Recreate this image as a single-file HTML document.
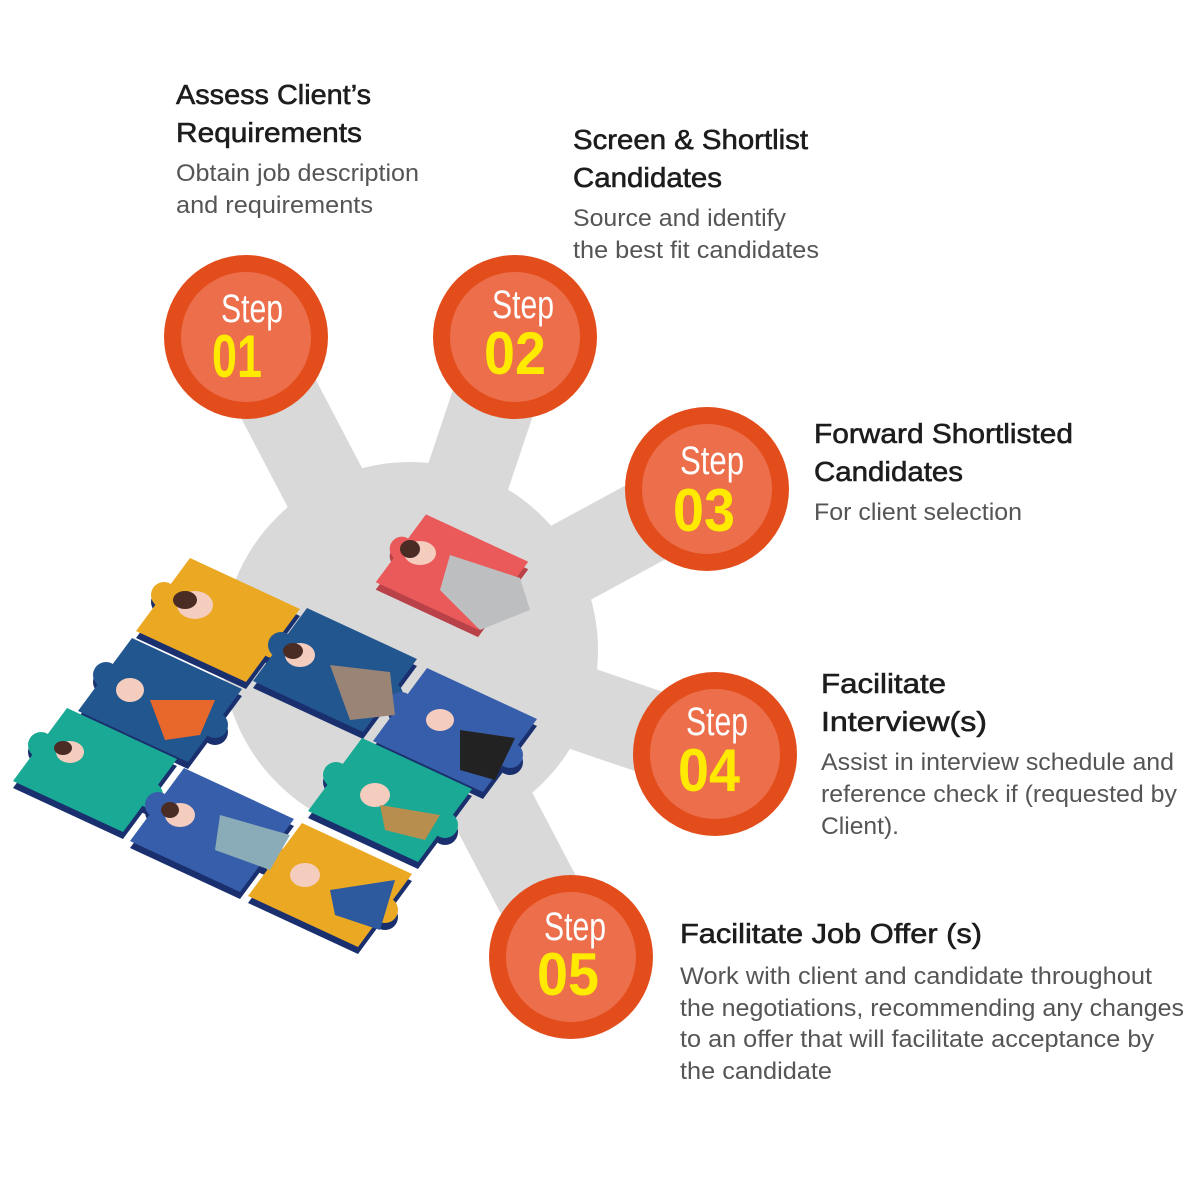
<!DOCTYPE html>
<html><head><meta charset="utf-8"><style>
html,body{margin:0;padding:0;background:#fff;}
svg{display:block;}
.h{font-family:"Liberation Sans",sans-serif;font-size:28px;fill:#1d1d1d;stroke:#1d1d1d;stroke-width:0.6px;}
.b{font-family:"Liberation Sans",sans-serif;font-size:24px;fill:#555;}
.st{font-family:"Liberation Sans Narrow","Liberation Sans",sans-serif;font-size:40px;fill:#fff;}
.nm{font-family:"Liberation Sans Narrow","Liberation Sans",sans-serif;font-size:60px;font-weight:bold;fill:#FFEA00;}
</style></head><body>
<svg width="1200" height="1200" viewBox="0 0 1200 1200" xmlns="http://www.w3.org/2000/svg">
<defs>
<g id="pc"><polygon points="-28,-62 82,-11 28,62 -82,11"/><circle cx="55" cy="25" r="13"/><circle cx="-54" cy="-25" r="13"/></g>
</defs>
<!-- gray hub -->
<g fill="#D9D9D9" stroke="#D9D9D9" stroke-linecap="round">
<circle cx="410" cy="650" r="188" stroke="none"/>
<line x1="410" y1="650" x2="246" y2="337" stroke-width="84"/>
<line x1="410" y1="650" x2="515" y2="337" stroke-width="84"/>
<line x1="410" y1="650" x2="707" y2="489" stroke-width="84"/>
<line x1="410" y1="650" x2="715" y2="754" stroke-width="84"/>
<line x1="410" y1="650" x2="571" y2="957" stroke-width="84"/>
</g>
<!-- puzzle pieces -->
<g>
<g fill="#1a2f6e">
<use href="#pc" transform="translate(218,627)"/>
<use href="#pc" transform="translate(160,707)"/>
<use href="#pc" transform="translate(95,777)"/>
<use href="#pc" transform="translate(212,837)"/>
<use href="#pc" transform="translate(330,892)"/>
<use href="#pc" transform="translate(390,807)"/>
<use href="#pc" transform="translate(455,737)"/>
<use href="#pc" transform="translate(335,677)"/>
</g>
<use href="#pc" transform="translate(218,620)" fill="#EAA823"/>
<use href="#pc" transform="translate(335,670)" fill="#22568F"/>
<use href="#pc" transform="translate(160,700)" fill="#22568F"/>
<use href="#pc" transform="translate(455,730)" fill="#375EAA"/>
<use href="#pc" transform="translate(95,770)" fill="#1AA994"/>
<use href="#pc" transform="translate(390,800)" fill="#1AA994"/>
<use href="#pc" transform="translate(212,830)" fill="#375EAA"/>
<use href="#pc" transform="translate(330,885)" fill="#EAA823"/>
<!-- red piece -->
<g transform="translate(452,572) scale(0.93)">
<use href="#pc" transform="translate(0,8)" fill="#b94148"/>
<use href="#pc" fill="#EA5A5B"/>
</g>
<!-- simple figures -->
<g fill="#F5CDBE">
<ellipse cx="195" cy="605" rx="18" ry="14"/><ellipse cx="130" cy="690" rx="14" ry="12"/>
<ellipse cx="70" cy="752" rx="14" ry="11"/><ellipse cx="180" cy="815" rx="15" ry="12"/>
<ellipse cx="305" cy="875" rx="15" ry="12"/><ellipse cx="375" cy="795" rx="15" ry="12"/>
<ellipse cx="440" cy="720" rx="14" ry="11"/><ellipse cx="300" cy="655" rx="15" ry="12"/>
<ellipse cx="420" cy="553" rx="16" ry="12"/>
</g>
<g fill="#4a2c25">
<ellipse cx="185" cy="600" rx="12" ry="9"/><ellipse cx="293" cy="651" rx="10" ry="8"/>
<ellipse cx="410" cy="549" rx="10" ry="9"/><ellipse cx="63" cy="748" rx="9" ry="7"/>
<ellipse cx="170" cy="810" rx="9" ry="8"/>
</g>
<polygon points="450,555 520,578 530,610 480,630 440,590" fill="#BDBEC0"/>
<polygon points="330,665 390,672 395,715 350,720" fill="#9A8476"/>
<polygon points="150,700 215,700 200,735 165,740" fill="#E8682B"/>
<polygon points="220,815 290,835 270,870 215,850" fill="#8AACB8"/>
<polygon points="460,730 515,738 495,780 460,770" fill="#222"/>
<polygon points="380,805 440,815 425,840 385,830" fill="#B88E4F"/>
<polygon points="330,890 395,880 380,930 335,915" fill="#2D5A9E"/>
</g>
<!-- step circles -->
<g>
<circle cx="246" cy="337" r="82" fill="#E34D1C"/><circle cx="246" cy="337" r="65" fill="#EC6E4B"/>
<circle cx="515" cy="337" r="82" fill="#E34D1C"/><circle cx="515" cy="337" r="65" fill="#EC6E4B"/>
<circle cx="707" cy="489" r="82" fill="#E34D1C"/><circle cx="707" cy="489" r="65" fill="#EC6E4B"/>
<circle cx="715" cy="754" r="82" fill="#E34D1C"/><circle cx="715" cy="754" r="65" fill="#EC6E4B"/>
<circle cx="571" cy="957" r="82" fill="#E34D1C"/><circle cx="571" cy="957" r="65" fill="#EC6E4B"/>
</g>
<g>
<text class="st" x="221" y="322" textLength="62" lengthAdjust="spacingAndGlyphs">Step</text>
<text class="nm" x="212" y="377" textLength="50" lengthAdjust="spacingAndGlyphs">01</text>
<text class="st" x="492" y="318" textLength="62" lengthAdjust="spacingAndGlyphs">Step</text>
<text class="nm" x="484" y="374" textLength="62" lengthAdjust="spacingAndGlyphs">02</text>
<text class="st" x="680" y="474" textLength="64" lengthAdjust="spacingAndGlyphs">Step</text>
<text class="nm" x="673" y="531" textLength="62" lengthAdjust="spacingAndGlyphs">03</text>
<text class="st" x="686" y="735" textLength="62" lengthAdjust="spacingAndGlyphs">Step</text>
<text class="nm" x="678" y="791" textLength="62" lengthAdjust="spacingAndGlyphs">04</text>
<text class="st" x="544" y="940" textLength="62" lengthAdjust="spacingAndGlyphs">Step</text>
<text class="nm" x="537" y="995" textLength="62" lengthAdjust="spacingAndGlyphs">05</text>
</g>
<!-- text -->
<text class="h" x="176" y="104" textLength="195" lengthAdjust="spacingAndGlyphs">Assess Client’s</text>
<text class="h" x="176" y="142" textLength="186" lengthAdjust="spacingAndGlyphs">Requirements</text>
<text class="b" x="176" y="181" textLength="243" lengthAdjust="spacingAndGlyphs">Obtain job description</text>
<text class="b" x="176" y="213" textLength="197" lengthAdjust="spacingAndGlyphs">and requirements</text>

<text class="h" x="573" y="149" textLength="235" lengthAdjust="spacingAndGlyphs">Screen &amp; Shortlist</text>
<text class="h" x="573" y="187" textLength="149" lengthAdjust="spacingAndGlyphs">Candidates</text>
<text class="b" x="573" y="226" textLength="213" lengthAdjust="spacingAndGlyphs">Source and identify</text>
<text class="b" x="573" y="258" textLength="246" lengthAdjust="spacingAndGlyphs">the best fit candidates</text>

<text class="h" x="814" y="443" textLength="259" lengthAdjust="spacingAndGlyphs">Forward Shortlisted</text>
<text class="h" x="814" y="481" textLength="149" lengthAdjust="spacingAndGlyphs">Candidates</text>
<text class="b" x="814" y="520" textLength="208" lengthAdjust="spacingAndGlyphs">For client selection</text>

<text class="h" x="821" y="693" textLength="125" lengthAdjust="spacingAndGlyphs">Facilitate</text>
<text class="h" x="821" y="731" textLength="166" lengthAdjust="spacingAndGlyphs">Interview(s)</text>
<text class="b" x="821" y="770" textLength="353" lengthAdjust="spacingAndGlyphs">Assist in interview schedule and</text>
<text class="b" x="821" y="802" textLength="356" lengthAdjust="spacingAndGlyphs">reference check if (requested by</text>
<text class="b" x="821" y="834" textLength="78" lengthAdjust="spacingAndGlyphs">Client).</text>

<text class="h" x="680" y="943" textLength="302" lengthAdjust="spacingAndGlyphs">Facilitate Job Offer (s)</text>
<text class="b" x="680" y="984" textLength="472" lengthAdjust="spacingAndGlyphs">Work with client and candidate throughout</text>
<text class="b" x="680" y="1016" textLength="504" lengthAdjust="spacingAndGlyphs">the negotiations, recommending any changes</text>
<text class="b" x="680" y="1047" textLength="474" lengthAdjust="spacingAndGlyphs">to an offer that will facilitate acceptance by</text>
<text class="b" x="680" y="1079" textLength="152" lengthAdjust="spacingAndGlyphs">the candidate</text>
</svg>
</body></html>
